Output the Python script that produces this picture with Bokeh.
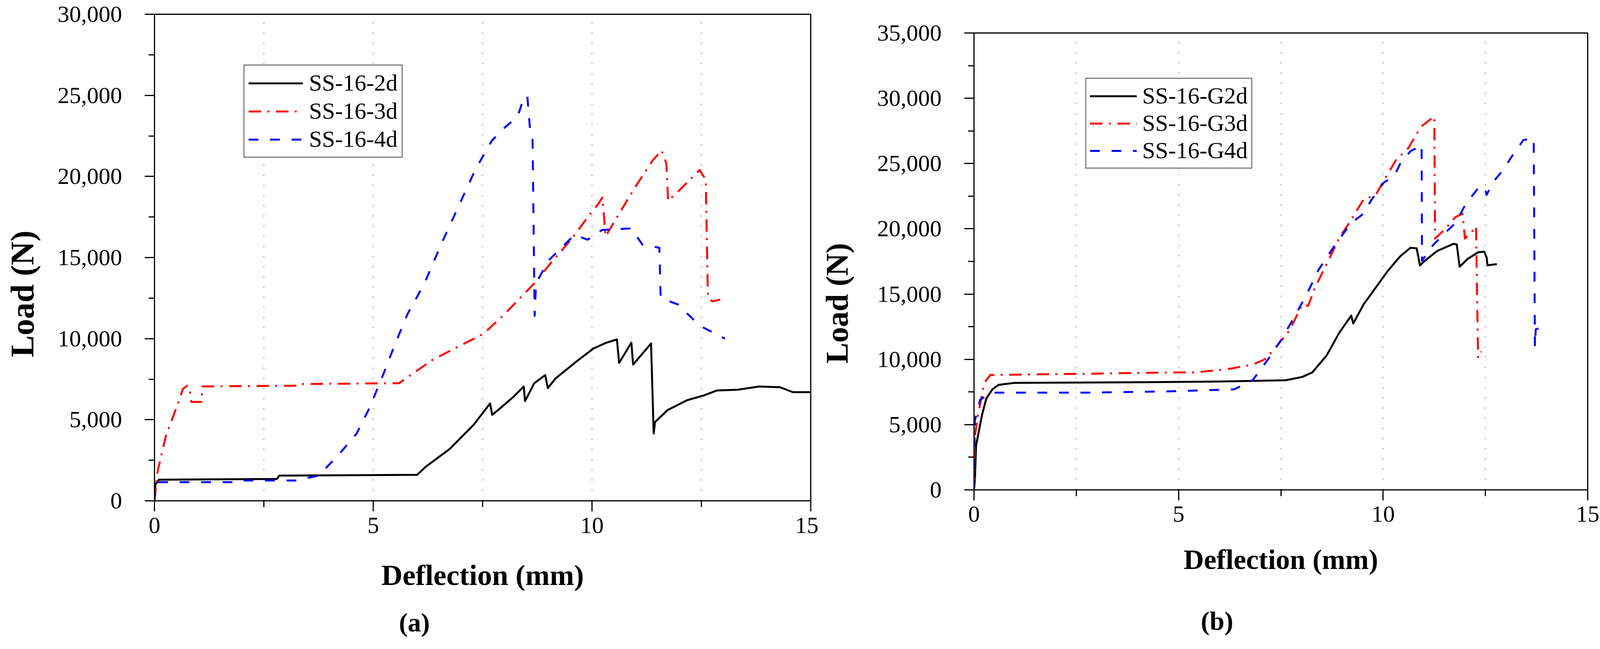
from bokeh.plotting import figure
from bokeh.models import (Range1d, FixedTicker, NumeralTickFormatter, Legend,
                          LegendItem, LinearAxis, CustomJSTickFormatter)
from bokeh.layouts import row, column
from bokeh.embed import file_html
from bokeh.resources import INLINE

# ---------------- data: panel (a) ----------------
a_2d_x = [0, 0.02, 0.1, 2.8, 2.85, 6.0, 6.2, 6.75, 7.3, 7.67, 7.72, 7.9, 8.2, 8.44,
          8.47, 8.68, 8.93, 8.99, 9.17, 9.65, 10.04, 10.33, 10.57, 10.62, 10.9,
          10.94, 11.35, 11.41, 11.44, 11.73, 12.17, 12.56, 12.85, 13.33, 13.82,
          14.3, 14.59, 15.0]
a_2d_y = [0, 1000, 1300, 1350, 1550, 1600, 2100, 3200, 4700, 6000, 5300, 5700, 6400,
          7050, 6150, 7250, 7750, 6950, 7550, 8600, 9400, 9750, 9950, 8500, 9750,
          8400, 9700, 4150, 4850, 5600, 6200, 6500, 6800, 6850, 7050, 7000, 6700,
          6700]

a_3d_x = [0, 0.07, 0.26, 0.55, 0.65, 0.75, 0.8, 0.84, 1.08, 1.09, 3.26, 3.3, 5.59,
          5.88, 6.36, 6.94, 7.52, 8.0, 8.39, 8.68, 9.07, 9.55, 9.85, 10.14, 10.24,
          10.31, 10.62, 11.0, 11.39, 11.59, 11.7, 11.74, 11.98, 12.46, 12.6, 12.65,
          12.75, 12.93]
a_3d_y = [0, 1800, 4000, 6100, 6900, 7100, 6900, 6100, 6100, 7050, 7100, 7200, 7250,
          7800, 8700, 9500, 10300, 11500, 12600, 13400, 14700, 16200, 17300, 18300,
          18700, 16300, 17700, 19400, 21000, 21600, 20800, 18500, 19100, 20400,
          19800, 12500, 12300, 12400]

a_4d_x = [0, 0.02, 2.0, 2.05, 3.26, 3.3, 3.75, 4.23, 4.62, 4.91, 5.2, 5.49, 5.78,
          6.17, 6.55, 6.94, 7.33, 7.71, 8.0, 8.3, 8.4, 8.52, 8.59, 8.64, 8.69, 8.72,
          9.0, 9.3, 9.6, 9.9, 10.23, 10.9, 11.15, 11.54, 11.57, 11.97, 12.46, 13.04]
a_4d_y = [0, 1150, 1150, 1250, 1250, 1300, 1550, 2900, 4150, 5700, 7600, 9600, 11500,
          13400, 15800, 18100, 20400, 22200, 23000, 23700, 24500, 25000, 22700,
          22500, 11400, 13400, 14800, 15600, 16400, 16100, 16700, 16800, 15800,
          15600, 12500, 12100, 10800, 10000]

# ---------------- data: panel (b) ----------------
b_g2d_x = [0, 0.02, 0.05, 0.2, 0.3, 0.45, 0.6, 1.0, 4.21, 6.01, 7.62, 8.02, 8.27,
           8.62, 8.92, 9.22, 9.27, 9.52, 9.82, 10.12, 10.42, 10.67, 10.82, 10.9,
           11.02, 11.32, 11.72, 11.8, 11.87, 12.07, 12.32, 12.47, 12.53, 12.55, 12.78]
b_g2d_y = [0, 700, 3400, 5800, 7000, 7700, 8050, 8200, 8250, 8300, 8400, 8650, 9000,
           10300, 12000, 13350, 12750, 14200, 15500, 16800, 17900, 18550, 18500,
           17200, 17550, 18300, 18850, 18800, 17100, 17700, 18200, 18250, 17800,
           17200, 17300]

b_g3d_x = [0, 0.02, 0.1, 0.25, 0.4, 2.81, 4.81, 5.41, 6.21, 6.81, 7.11, 7.41, 7.72,
           8.02, 8.17, 8.32, 8.62, 8.92, 9.22, 9.52, 9.82, 10.02, 10.32, 10.62,
           10.92, 11.12, 11.25, 11.27, 11.52, 11.77, 11.94, 12.0, 12.22, 12.27,
           12.32, 12.4]
b_g3d_y = [0, 4100, 5800, 8200, 8800, 8900, 9000, 9000, 9250, 9600, 10000, 11050,
           12250, 14200, 14100, 15400, 17300, 19250, 20700, 22250, 22600, 23700,
           25300, 26200, 27800, 28300, 28600, 19250, 20000, 20900, 21150, 19250,
           19950, 20200, 10100, 10600]

b_g4d_x = [0, 0.02, 0.15, 0.4, 2.81, 4.81, 6.36, 6.81, 7.21, 7.52, 7.82, 8.12, 8.42,
           8.82, 9.22, 9.52, 9.72, 10.02, 10.27, 10.42, 10.67, 10.82, 10.94, 10.95,
           11.22, 11.52, 11.77, 12.02, 12.32, 12.47, 12.53, 12.68, 12.93, 13.23,
           13.43, 13.68, 13.71, 13.73, 13.83]
b_g4d_y = [0, 5300, 6900, 7450, 7450, 7550, 7700, 8400, 10100, 11550, 13200, 14900,
           16850, 18750, 20450, 21150, 22250, 23550, 24050, 25000, 25950, 26200,
           26450, 17550, 18750, 19700, 20450, 21900, 23100, 23250, 22600, 23550,
           24500, 25950, 26800, 26950, 10950, 12300, 12400]

x_ticks = [0, 5, 10, 15]
x_minor = [2.5, 7.5, 12.5]
x_grid = [2.5, 5, 7.5, 10, 12.5]
a_y_ticks = [0, 5000, 10000, 15000, 20000, 25000, 30000]
a_y_minor = [2500, 7500, 12500, 17500, 22500, 27500]
b_y_ticks = [0, 5000, 10000, 15000, 20000, 25000, 30000, 35000]
b_y_minor = [2500, 7500, 12500, 17500, 22500, 27500, 32500]

a_names = ["SS-16-2d", "SS-16-3d", "SS-16-4d"]
b_names = ["SS-16-G2d", "SS-16-G3d", "SS-16-G4d"]
x_title = "Deflection (mm)"
y_title = "Load (N)"

FONT = "Liberation Serif"
STYLES = [dict(line_color="black", line_width=5),
          dict(line_color="#ff0000", line_width=5, line_dash="32 16 5 17"),
          dict(line_color="#0000ff", line_width=5, line_dash="25 30")]


def text_axis(tick, text, standoff, size, vertical=False):
    ax = LinearAxis(ticker=FixedTicker(ticks=[tick], minor_ticks=[]),
                    formatter=CustomJSTickFormatter(code="return %r;" % text))
    ax.axis_line_color = None
    ax.major_tick_line_color = None
    ax.minor_tick_line_color = None
    ax.major_tick_in = 0
    ax.major_tick_out = 0
    ax.minor_tick_in = 0
    ax.minor_tick_out = 0
    ax.major_label_standoff = standoff
    ax.major_label_text_font = FONT
    ax.major_label_text_font_style = "bold"
    ax.major_label_text_font_size = size
    ax.major_label_text_color = "black"
    if vertical:
        ax.major_label_orientation = "vertical"
    return ax


def make_panel(width, height, bl, br, bt, bb, ymax, yticks, yminor, series, names,
               tick_std_x, lab_std_x, xlabel_size, leg_loc, leg_pad, leg_glyph_w,
               leg_std, leg_spacing, ylab_pos, ylab_std, ylab_size, tag, tag_pos,
               tag_std):
    p = figure(width=width, height=height, output_backend="svg", toolbar_location=None,
               x_range=Range1d(0, 15), y_range=Range1d(0, ymax),
               min_border_left=bl, min_border_right=br, min_border_top=bt,
               min_border_bottom=bb)
    p.background_fill_color = "white"
    p.border_fill_color = "white"
    p.outline_line_color = "black"
    p.outline_line_width = 3

    xa = p.xaxis[0]
    ya = p.yaxis[0]
    xa.ticker = FixedTicker(ticks=x_ticks, minor_ticks=x_minor)
    ya.ticker = FixedTicker(ticks=yticks, minor_ticks=yminor)
    ya.formatter = NumeralTickFormatter(format="0,0")
    for ax in (xa, ya):
        ax.axis_line_color = "black"
        ax.axis_line_width = 3
        ax.major_tick_line_color = "black"
        ax.major_tick_line_width = 3
        ax.minor_tick_line_color = "black"
        ax.minor_tick_line_width = 3
        ax.major_tick_in = 0
        ax.minor_tick_in = 0
        ax.major_label_text_font = FONT
        ax.major_label_text_font_size = "60px"
        ax.major_label_text_color = "black"
    xa.major_tick_out = 27
    xa.minor_tick_out = 16
    ya.major_tick_out = 25
    ya.minor_tick_out = 15
    xa.major_label_standoff = tick_std_x
    ya.major_label_standoff = 58
    xa.axis_label = x_title
    xa.axis_label_text_font = FONT
    xa.axis_label_text_font_style = "bold"
    xa.axis_label_text_color = "black"
    xa.axis_label_text_font_size = xlabel_size
    xa.axis_label_standoff = lab_std_x

    p.xgrid.ticker = FixedTicker(ticks=x_grid)
    p.xgrid.grid_line_color = "#a8a8a8"
    p.xgrid.grid_line_dash = "3 23"
    p.xgrid.grid_line_width = 3
    p.ygrid.visible = False

    items = []
    for (xs, ys), name, st in zip(series, names, STYLES):
        r = p.line(xs, ys, line_join="round", **st)
        items.append(LegendItem(label=name, renderers=[r]))

    leg = Legend(items=items, location=leg_loc, orientation="vertical")
    leg.border_line_color = "black"
    leg.border_line_width = 3
    leg.background_fill_color = "white"
    leg.background_fill_alpha = 1.0
    leg.label_text_font = FONT
    leg.label_text_font_size = "60px"
    leg.label_text_color = "black"
    leg.glyph_width = leg_glyph_w
    leg.glyph_height = 40
    leg.label_standoff = leg_std
    leg.padding = leg_pad
    leg.spacing = leg_spacing
    leg.margin = 0
    p.add_layout(leg)

    # y-axis title (rotated, placed lower than the frame centre as in the original)
    p.add_layout(text_axis(ylab_pos, y_title, ylab_std, ylab_size, vertical=True), "left")
    # panel caption below the x-axis title
    p.add_layout(text_axis(tag_pos, tag, tag_std, "68px"), "below")
    return p


pa = make_panel(2095, 1646, 395, 20, 36, 364, 30000, a_y_ticks, a_y_minor,
                [(a_2d_x, a_2d_y), (a_3d_x, a_3d_y), (a_4d_x, a_4d_y)], a_names,
                16, 63, "75px", (228, 878), 10, 139, 16, 3, 12760, 40, "84px",
                "(a)", 5.94, 39)
pb = make_panel(2014, 1640, 398, 45, 78, 392, 35000, b_y_ticks, b_y_minor,
                [(b_g2d_x, b_g2d_y), (b_g3d_x, b_g3d_y), (b_g4d_x, b_g4d_y)], b_names,
                15, 54, "72px", (285, 822), 9, 120, 14, 1, 14300, 55, "80px",
                "(b)", 5.94, 76)
pb.margin = (6, 0, 0, 0)

layout = row(pa, column(pb))
open("out.html", "w").write(file_html(layout, INLINE))
